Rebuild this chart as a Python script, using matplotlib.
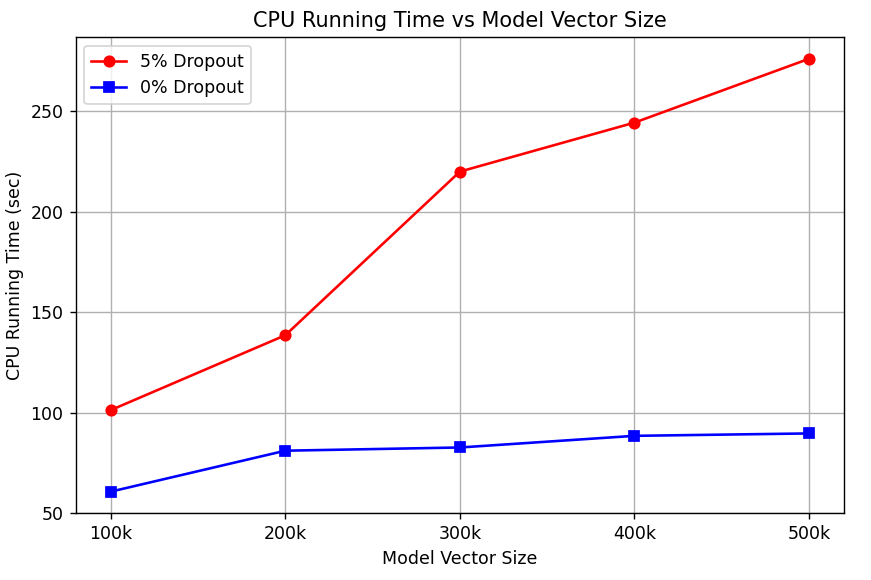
import numpy as np
import matplotlib.pyplot as plt

sizes = ["100k", "200k", "300k", "400k", "500k"]
dropout_5 = [101.2, 138.5, 220.0, 244.4, 276.2]
dropout_0 = [60.6, 81.0, 82.6, 88.4, 89.6]

x = np.arange(len(sizes))

# original seems rendered at a higher dpi, so scale everything with dpi
fig = plt.figure(figsize=(871 / 125, 580 / 125), dpi=125)
ax = fig.add_axes([0.087, 0.115, 0.882, 0.821])
ax.plot(x, dropout_5, "r-o", label="5% Dropout")
ax.plot(x, dropout_0, "b-s", label="0% Dropout")
ax.set_xticks(x)
ax.set_xticklabels(sizes)
ax.set_title("CPU Running Time vs Model Vector Size")
ax.set_xlabel("Model Vector Size")
ax.set_ylabel("CPU Running Time (sec)")
ax.legend(loc="upper left")
ax.grid(True)
fig.savefig("out.png", dpi=125)
